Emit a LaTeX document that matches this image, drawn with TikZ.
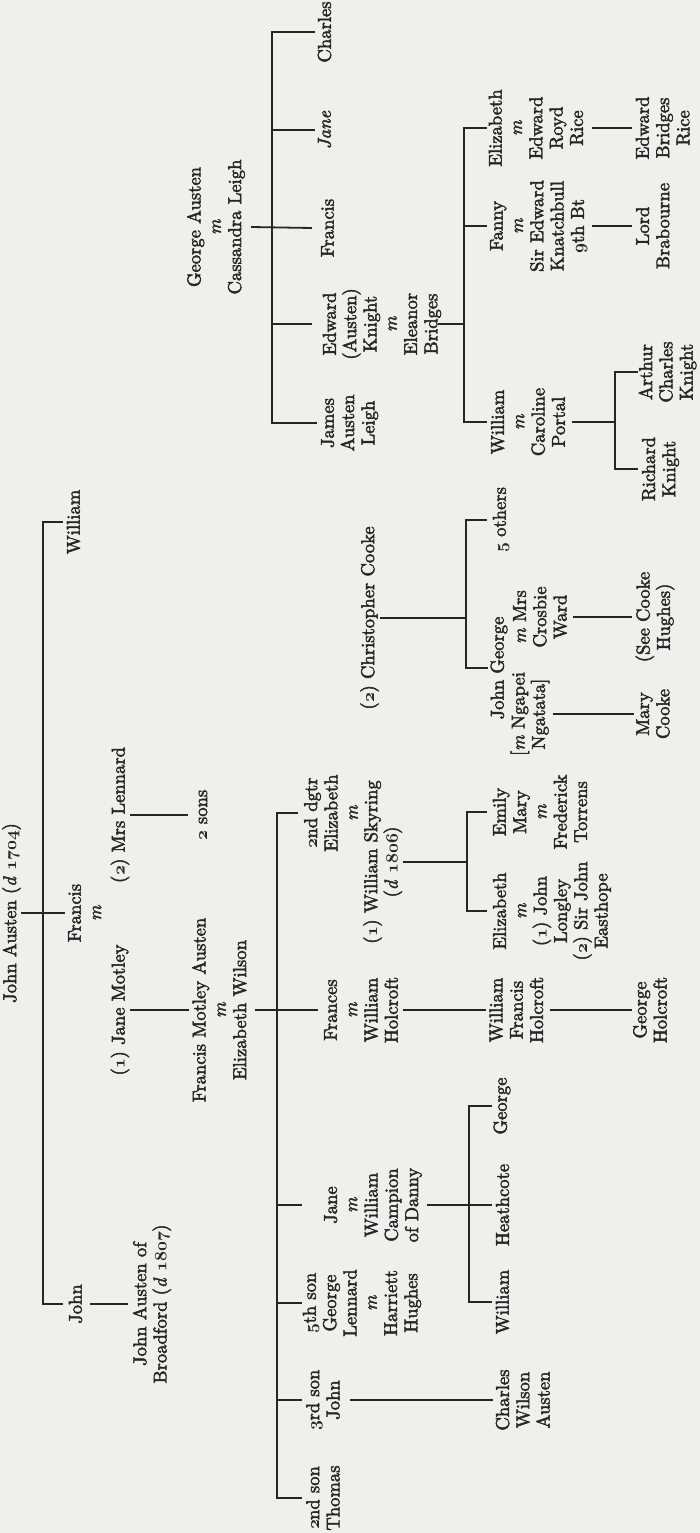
\documentclass[tikz,border=0pt]{standalone}
\DeclareFontFamily{TU}{lmten}{}
\DeclareFontShape{TU}{lmten}{m}{n}{<-> "[lmroman10-regular]:+tlig;embolden=2.5"}{}
\DeclareFontShape{TU}{lmten}{m}{it}{<-> "[lmroman10-italic]:+tlig;embolden=2.5"}{}
\definecolor{paper}{RGB}{239,239,236}
\definecolor{ink}{RGB}{38,38,38}
\newcommand\osn[1]{{\usefont{OML}{cmm}{b}{it}#1}}
\tikzset{
  pn/.style={rotate=90, align=center, inner sep=0pt, text=ink,
    font=\fontfamily{lmten}\fontsize{18.6}{20.3}\selectfont},
  ln/.style={draw=ink, line width=1.8pt},
}
\begin{document}
\begin{tikzpicture}[x=1pt,y=-1pt]
\fill[paper] (0,0) rectangle (700,1533);
\useasboundingbox (0,0) rectangle (700,1533);

% ---------- John Austen (d 1704) ----------
\node[pn] (ja) at (11.5,913) {John Austen (\textit{d} \osn{1704})};
\node[pn] (wil1) at (73.5,522) {William};
\node[pn] (fra1) at (84.7,913) {Francis\\\textit{m}};
\node[pn] (ml) at (120,815) {(\osn{2}) Mrs Lennard};
\node[pn] (jm) at (120,1010) {(\osn{1}) Jane Motley};
\node[pn] (sons) at (203,815) {\osn{2} sons};
\node[pn] (fma) at (219.3,1010) {Francis Motley Austen\\\textit{m}\\Elizabeth Wilson};
\node[pn] (john1) at (75.5,1304) {John};
\node[pn] (broad) at (152,1304) {John Austen of\\Broadford (\textit{d} \osn{1807})};

% ---------- children of Francis Motley Austen ----------
\node[pn] (dgtr) at (331,813) {\osn{2}nd dgtr\\Elizabeth\\\textit{m}};
\node[pn] (sky) at (382.7,862) {(\osn{1}) William Skyring\\(\textit{d} \osn{1806})};
\node[pn] (cc) at (369.5,618) {(\osn{2}) Christopher Cooke};
\node[pn] (frances) at (361,1010) {Frances\\\textit{m}\\William\\Holcroft};
\node[pn] (jane2) at (373,1205) {Jane\\\textit{m}\\William\\Campion\\of Danny};
\node[pn] (lennard) at (362,1303) {\osn{5}th son\\George\\Lennard\\\textit{m}\\Harriett\\Hughes};
\node[pn] (john3) at (323,1400) {\osn{3}rd son\\John};
\node[pn] (thomas) at (323,1498) {\osn{2}nd son\\Thomas};

\node[pn] (emily) at (540,812) {Emily\\Mary\\\textit{m}\\Frederick\\Torrens};
\node[pn] (eliz2) at (552,911) {Elizabeth\\\textit{m}\\(\osn{1}) John\\Longley\\(\osn{2}) Sir John\\Easthope};
\node[pn] (wfh) at (516.3,1010) {William\\Francis\\Holcroft};
\node[pn] (gh) at (650,1010) {George\\Holcroft};
\node[pn] (george2) at (502,1106) {George};
\node[pn] (heath) at (502.5,1205) {Heathcote};
\node[pn] (william2) at (502.5,1302) {William};
\node[pn] (cwa) at (522.8,1400) {Charles\\Wilson\\Austen};

\node[pn] (others) at (501,520) {\osn{5} others};
\node[pn] (jg) at (499,668) {John George};
\node[pn] (ngapei) at (530,714) {[\textit{m} Ngapei\\Ngatata]};
\node[pn] (crosbie) at (540,617) {\textit{m} Mrs\\Crosbie\\Ward};
\node[pn] (mary) at (653,714) {Mary\\Cooke};
\node[pn] (see) at (655,617) {(See Cooke\\Hughes)};

% ---------- George Austen ----------
\node[pn] (ga) at (216,227) {George Austen\\\textit{m}\\Cassandra Leigh};
\node[pn] (charles) at (324.5,32) {Charles};
\node[pn] (jane1) at (324.5,130) {\textit{Jane}};
\node[pn] (francis2) at (327.5,228) {Francis};
\node[pn] (edward) at (382,324) {Edward\\(Austen)\\Knight\\\textit{m}\\Eleanor\\Bridges};
\node[pn] (james) at (349.6,423) {James\\Austen\\Leigh};
\node[pn] (eliz3) at (536,128) {Elizabeth\\\textit{m}\\Edward\\Royd\\Rice};
\node[pn] (fanny) at (538.6,226) {Fanny\\\textit{m}\\Sir Edward\\Knatchbull\\\osn{9}th Bt};
\node[pn] (william3) at (528,422) {William\\\textit{m}\\Caroline\\Portal};
\node[pn] (ebr) at (662.8,128) {Edward\\Bridges\\Rice};
\node[pn] (lb) at (652.7,226) {Lord\\Brabourne};
\node[pn] (ack) at (667.6,372) {Arthur\\Charles\\Knight};
\node[pn] (rk) at (660.5,469) {Richard\\Knight};

% ---------- sibling bars ----------
\coordinate (b1) at (43,0);
\coordinate (b2) at (277,0);
\coordinate (b3) at (467,0);
\coordinate (b4) at (466,0);
\coordinate (b5) at (272,0);
\coordinate (b6) at (464,0);
\coordinate (b7) at (615,0);
\coordinate (b8) at (469,0);

% John Austen's children
\draw[ln] (b1 |- wil1.center) ++(20,0) -- (b1 |- wil1.center) -- (b1 |- john1.center) -- ++(20,0);
\draw[ln] (ja.south |- fra1.center) -- ([xshift=-3pt]fra1.north);
\draw[ln] (ml.south) -- ([xshift=-11pt]sons.north);
\draw[ln] (jm.south) -- ([xshift=-3pt]fma.north);
\draw[ln] ([xshift=8pt]john1.south) -- ([xshift=-5pt]broad.north);

% Francis Motley Austen's children
\draw[ln] (b2 |- dgtr.center) ++(21,0) -- (b2 |- dgtr.center) -- (b2 |- thomas.center) -- ++(25,0);
\draw[ln] ([xshift=8pt]fma.south) -- ([xshift=-6pt]frances.north);
\draw[ln] (b2 |- jane2.center) -- ++(25,0);
\draw[ln] (b2 |- lennard.center) -- ++(25,0);
\draw[ln] (b2 |- john3.center) -- ++(25,0);

% Skyring children
\draw[ln] (b3 |- emily.center) ++(20,0) -- (b3 |- emily.center) -- (b3 |- eliz2.center) -- ++(20,0);
\draw[ln] ([xshift=1pt]sky.south) -- (b3 |- sky.center);

% Cooke children
\draw[ln] (b4 |- others.center) ++(21,0) -- (b4 |- others.center) -- (b4 |- jg.center) -- ++(22,0);
\draw[ln] ([xshift=1pt]cc.south) -- (b4 |- cc.center);
\draw[ln] ([xshift=3pt]ngapei.south) -- ([xshift=-2pt]mary.north);
\draw[ln] ([xshift=6pt]crosbie.south) -- ([xshift=-3pt]see.north);

% Holcroft line
\draw[ln] ([xshift=5pt]frances.south) -- ([xshift=-3pt]wfh.north);
\draw[ln] ([xshift=7pt]wfh.south) -- ([xshift=-1pt]gh.north);

% Campion children
\draw[ln] (b8 |- george2.center) ++(23,0) -- (b8 |- george2.center) -- (b8 |- william2.center) -- ++(23,0);
\draw[ln] ([xshift=5pt]jane2.south) -- ([xshift=-4pt]heath.north);

% John (3rd son)
\draw[ln] ([xshift=10pt]john3.south) -- ([xshift=-3pt]cwa.north);

% George Austen's children
\draw[ln] (b5 |- charles.center) ++(43,0) -- (b5 |- charles.center) -- (b5 |- james.center) -- ++(45,0);
\draw[ln] (b5 |- jane1.center) -- ++(43,0);
\draw[ln] (b5 |- edward.center) -- ++(40,0);
\draw[ln] ([xshift=6pt]ga.south) -- ([xshift=-9pt]francis2.north);

% Edward Knight's children
\draw[ln] (b6 |- eliz3.center) ++(23,0) -- (b6 |- eliz3.center) -- (b6 |- william3.center) -- ++(23,0);
\draw[ln] (b6 |- fanny.center) -- ++(23,0);
\draw[ln] ([xshift=-3pt]edward.south) -- (b6 |- edward.center);
\draw[ln] ([xshift=9pt]eliz3.south) -- ([xshift=-4pt]ebr.north);
\draw[ln] ([xshift=5pt]fanny.south) -- ([xshift=-4pt]lb.north);

% William Knight's children
\draw[ln] (b7 |- ack.center) ++(23,0) -- (b7 |- ack.center) -- (b7 |- rk.center) -- ++(23,0);
\draw[ln] ([xshift=7pt]william3.south) -- (b7 |- william3.center);
\end{tikzpicture}
\end{document}
